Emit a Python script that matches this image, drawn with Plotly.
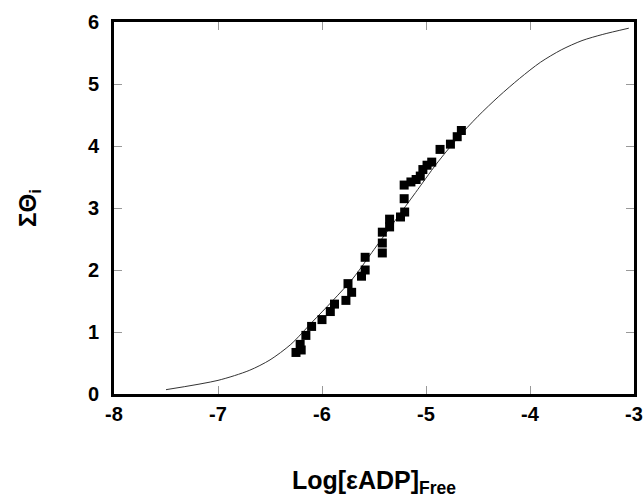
import plotly.graph_objects as go

# Measured data points (log[εADP]free, ΣΘi)
data_x = [-6.25, -6.20, -6.21, -6.155, -6.10, -6.00, -5.92, -5.88, -5.77, -5.715,
          -5.75, -5.62, -5.585, -5.585, -5.42, -5.42, -5.42, -5.35, -5.35, -5.245,
          -5.205, -5.21, -5.21, -5.145, -5.095, -5.055, -5.03, -4.99, -4.945, -4.865,
          -4.765, -4.70, -4.66]
data_y = [0.67, 0.71, 0.80, 0.945, 1.09, 1.20, 1.33, 1.45, 1.51, 1.64,
          1.78, 1.90, 2.00, 2.205, 2.275, 2.435, 2.61, 2.695, 2.82, 2.855,
          2.935, 3.15, 3.37, 3.42, 3.46, 3.515, 3.62, 3.69, 3.74, 3.945,
          4.03, 4.15, 4.25]

# Fitted curve
fit_x = [-7.50, -7.00, -6.70, -6.50, -6.30, -6.10, -5.90, -5.70, -5.50, -5.30,
         -5.10, -4.90, -4.70, -4.50, -4.30, -4.10, -3.90, -3.70, -3.50, -3.30, -3.05]
fit_y = [0.07, 0.22, 0.38, 0.55, 0.80, 1.15, 1.50, 1.87, 2.33, 2.79,
         3.25, 3.71, 4.12, 4.48, 4.80, 5.09, 5.35, 5.55, 5.70, 5.80, 5.90]

x_ticks = [-8, -7, -6, -5, -4, -3]
y_ticks = [0, 1, 2, 3, 4, 5, 6]

font_family = "Liberation Sans, Arial, sans-serif"

fig = go.Figure()
fig.add_trace(go.Scatter(x=fit_x, y=fit_y, mode="lines",
                         line=dict(color="#333333", width=1, shape="spline", smoothing=0.8),
                         showlegend=False, hoverinfo="skip"))
fig.add_trace(go.Scatter(x=data_x, y=data_y, mode="markers",
                         marker=dict(symbol="square", size=9, color="black", line=dict(width=0)),
                         showlegend=False))

axis_common = dict(
    showgrid=False, zeroline=False,
    showline=True, linecolor="black", linewidth=3, mirror="ticks",
    ticks="inside", ticklen=8, tickwidth=1, tickcolor="#999999",
    tickfont=dict(family=font_family, size=20, color="black", weight="bold"),
)

fig.update_xaxes(range=[-8, -3], tickvals=x_ticks, ticktext=[str(v) for v in x_ticks],
                 title=dict(text="Log[εADP]<sub>Free</sub>", standoff=48,
                            font=dict(family=font_family, size=25, color="black", weight="bold")),
                 ticklabelstandoff=0,
                 automargin=False, **axis_common)
fig.update_yaxes(range=[0, 6], tickvals=y_ticks, ticktext=[str(v) for v in y_ticks],
                 title=dict(text="ΣΘ<sub>i</sub>", standoff=45,
                            font=dict(family=font_family, size=24, color="black", weight="bold")),
                 ticklabelstandoff=8,
                 automargin=False, **axis_common)

fig.update_layout(
    width=644, height=504,
    margin=dict(l=114, r=10, t=22, b=110, pad=0),
    paper_bgcolor="white", plot_bgcolor="white",
    font=dict(family=font_family, color="black"),
)

fig.write_html("out.html")
